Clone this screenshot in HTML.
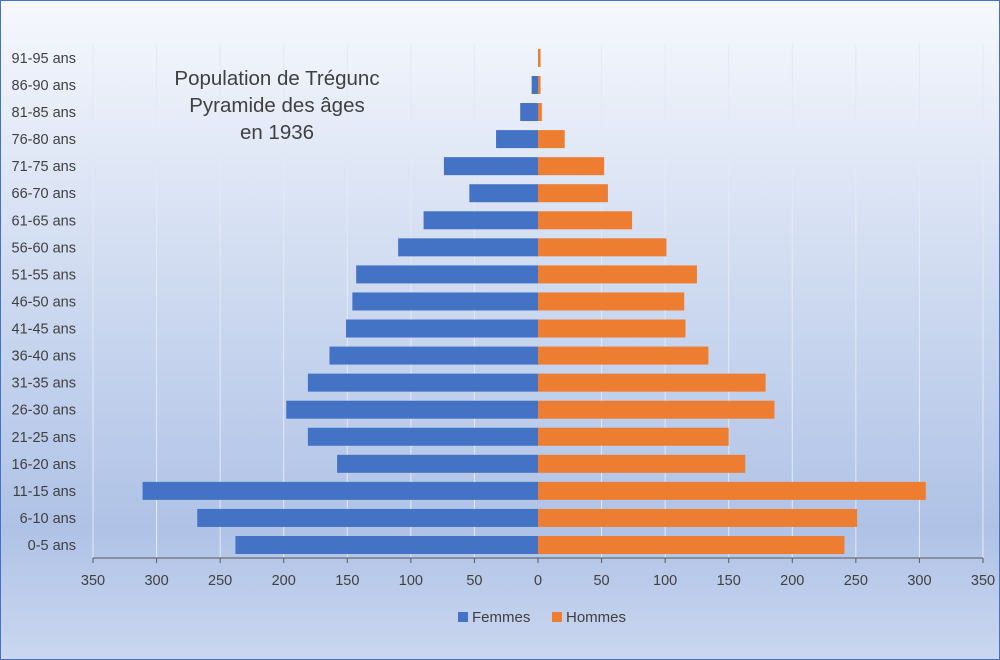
<!DOCTYPE html>
<html><head><meta charset="utf-8"><style>
html,body{margin:0;padding:0}
body{width:1000px;height:660px;overflow:hidden}
svg{display:block;font-family:"Liberation Sans",sans-serif}
</style></head><body>
<svg width="1000" height="660" viewBox="0 0 1000 660">
<defs><linearGradient id="bg" x1="0" y1="0" x2="0" y2="1">
<stop offset="0" stop-color="#f6f8fd"/><stop offset="0.45" stop-color="#cdd9f0"/><stop offset="0.8" stop-color="#afc2e6"/><stop offset="1" stop-color="#cbd7ef"/></linearGradient></defs>
<rect x="0.5" y="0.5" width="999" height="659" fill="url(#bg)" stroke="#4472c4"/>
<g id="grid" stroke="#e3e9f5" stroke-width="1"></g>
<g id="bars"></g>
<line x1="93" y1="558" x2="983" y2="558" stroke="#595959"/>
<g id="ticks" stroke="#595959"></g>
<g id="lbl" font-size="14.5" fill="#404040"></g>
<text font-size="20.5" fill="#404040" text-anchor="middle"><tspan x="277" y="85">Population de Trégunc</tspan><tspan x="277" y="112">Pyramide des âges</tspan><tspan x="277" y="139">en 1936</tspan></text>
<rect x="458" y="612" width="10" height="10" fill="#4472c4"/><text x="472" y="622" font-size="15" fill="#404040">Femmes</text>
<rect x="552" y="612" width="10" height="10" fill="#ed7d31"/><text x="566" y="622" font-size="15" fill="#404040">Hommes</text>
</svg>
<script>
var ns="http://www.w3.org/2000/svg";
function el(p,t,a,txt){var e=document.createElementNS(ns,t);for(var k in a)e.setAttribute(k,a[k]);if(txt!=null)e.textContent=txt;document.getElementById(p).appendChild(e);}
var x0=538,s=1.2714;
for(var v=-350;v<=350;v+=50){var x=x0+v*s;
 if(v!==0)el("grid","line",{x1:x,y1:45,x2:x,y2:558});
 el("ticks","line",{x1:x,y1:558,x2:x,y2:563});
 el("lbl","text",{x:x,y:585,"text-anchor":"middle"},String(Math.abs(v)));}
var labs=["0-5","6-10","11-15","16-20","21-25","26-30","31-35","36-40","41-45","46-50","51-55","56-60","61-65","66-70","71-75","76-80","81-85","86-90","91-95"];
var f=[238,268,311,158,181,198,181,164,151,146,143,110,90,54,74,33,14,5,0];
var h=[241,251,305,163,150,186,179,134,116,115,125,101,74,55,52,21,3,2,2];
for(var i=0;i<19;i++){var y=545-i*27.06;
 el("bars","rect",{x:x0-f[i]*s,y:y-9,width:f[i]*s,height:18,fill:"#4472c4"});
 el("bars","rect",{x:x0,y:y-9,width:h[i]*s,height:18,fill:"#ed7d31"});
 el("lbl","text",{x:76,y:y+5,"text-anchor":"end"},labs[i]+" ans");}
</script>
</body></html>
